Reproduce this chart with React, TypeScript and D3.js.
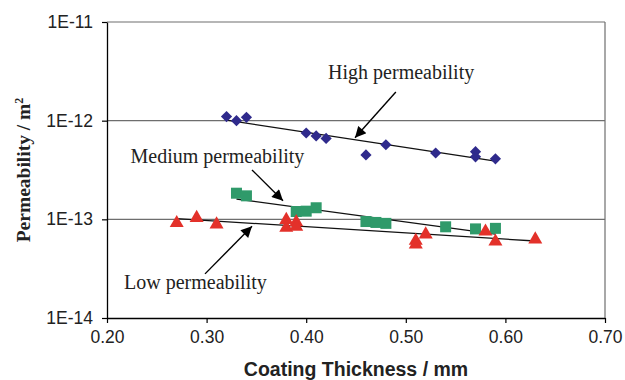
import React, { useEffect, useRef } from "react";
import * as d3 from "d3";

// coating thickness (mm) and permeability (m^2)
const highX = [0.32, 0.33, 0.34, 0.40, 0.41, 0.42, 0.46, 0.48, 0.53, 0.57, 0.57, 0.59];
const highY = [1.1e-12, 1.0e-12, 1.08e-12, 7.5e-13, 7.0e-13, 6.6e-13, 4.5e-13, 5.7e-13, 4.7e-13, 4.85e-13, 4.3e-13, 4.1e-13];

const mediumX = [0.33, 0.34, 0.39, 0.40, 0.41, 0.46, 0.47, 0.48, 0.54, 0.57, 0.59];
const mediumY = [1.84e-13, 1.73e-13, 1.2e-13, 1.21e-13, 1.31e-13, 9.5e-14, 9.3e-14, 9.1e-14, 8.4e-14, 8.0e-14, 8.1e-14];

const lowX = [0.27, 0.29, 0.31, 0.38, 0.38, 0.39, 0.39, 0.51, 0.51, 0.52, 0.58, 0.59, 0.63];
const lowY = [9.4e-14, 1.06e-13, 9.1e-14, 1.01e-13, 8.4e-14, 9.6e-14, 8.6e-14, 6.2e-14, 5.7e-14, 7.2e-14, 7.7e-14, 6.1e-14, 6.4e-14];

const xTicks = [0.2, 0.3, 0.4, 0.5, 0.6, 0.7];
const yTicks = [1e-14, 1e-13, 1e-12, 1e-11];
const yTickLabels = ["1E-14", "1E-13", "1E-12", "1E-11"];

// annotation labels and arrows (data units)
const labels = ["High permeability", "Medium permeability", "Low permeability"];
const labelPos = [[0.422, 2.64e-12], [0.2236, 3.73e-13], [0.2171, 1.97e-14]];
const arrows = [
  [[0.49, 1.95e-12], [0.449, 6.7e-13]],
  [[0.3456, 3.17e-13], [0.3767, 1.54e-13]],
  [[0.2984, 2.8e-14], [0.3456, 8.5e-14]],
];

const W = 625;
const H = 380;
const margin = { top: 22, right: 20, bottom: 62, left: 107 };

// exponential least squares fit, like Excel's trendline
function expFit(xs: number[], ys: number[]) {
  const ly = ys.map((v) => Math.log(v));
  const mx = d3.mean(xs)!;
  const my = d3.mean(ly)!;
  let sxy = 0;
  let sxx = 0;
  xs.forEach((x, i) => {
    sxy += (x - mx) * (ly[i] - my);
    sxx += (x - mx) * (x - mx);
  });
  const b = sxy / sxx;
  const a = my - b * mx;
  return (x: number) => Math.exp(a + b * x);
}

const App = () => {
  const ref = useRef<SVGSVGElement>(null);

  useEffect(() => {
    const svg = d3.select(ref.current);
    svg.selectAll("*").remove();

    const x = d3.scaleLinear().domain([0.2, 0.7]).range([margin.left, W - margin.right]);
    const y = d3.scaleLog().domain([1e-14, 1e-11]).range([H - margin.bottom, margin.top]);

    const defs = svg.append("defs");
    defs
      .append("marker")
      .attr("id", "arrowhead")
      .attr("viewBox", "0 0 10 10")
      .attr("refX", 10)
      .attr("refY", 5)
      .attr("markerWidth", 13)
      .attr("markerHeight", 11)
      .attr("markerUnits", "userSpaceOnUse")
      .attr("orient", "auto")
      .append("path")
      .attr("d", "M0,0 L10,5 L0,10 Z")
      .attr("fill", "#000");

    // gridlines
    svg
      .append("g")
      .selectAll("line")
      .data(yTicks.slice(1))
      .enter()
      .append("line")
      .attr("x1", x(0.2))
      .attr("x2", x(0.7))
      .attr("y1", (d) => y(d))
      .attr("y2", (d) => y(d))
      .attr("stroke", "#6e6e6e")
      .attr("stroke-width", 1.2);

    // right border
    svg
      .append("line")
      .attr("x1", x(0.7))
      .attr("x2", x(0.7))
      .attr("y1", y(1e-11))
      .attr("y2", y(1e-14))
      .attr("stroke", "#6e6e6e")
      .attr("stroke-width", 1.2);

    // axes
    const xAxis = d3
      .axisBottom(x)
      .tickValues(xTicks)
      .tickFormat((d) => d3.format(".2f")(d as number))
      .tickSizeInner(5)
      .tickSizeOuter(0)
      .tickPadding(8);
    const gx = svg
      .append("g")
      .attr("transform", `translate(0,${H - margin.bottom})`)
      .call(xAxis);
    gx.selectAll("text")
      .attr("font-family", "Liberation Sans, Arial, sans-serif")
      .attr("font-size", 17.5)
      .attr("fill", "#222");

    const yAxis = d3
      .axisLeft(y)
      .tickValues(yTicks)
      .tickFormat((d, i) => yTickLabels[i])
      .tickSizeInner(5)
      .tickSizeOuter(0)
      .tickPadding(9);
    const gy = svg.append("g").attr("transform", `translate(${margin.left},0)`).call(yAxis);
    gy.selectAll("text")
      .attr("font-family", "Liberation Sans, Arial, sans-serif")
      .attr("font-size", 17.5)
      .attr("fill", "#222");

    [gx, gy].forEach((g) => {
      g.select(".domain").attr("stroke", "#000").attr("stroke-width", 1.3);
      g.selectAll(".tick line").attr("stroke", "#000").attr("stroke-width", 1.2);
    });

    // trend lines
    const series = [
      { xs: highX, ys: highY },
      { xs: mediumX, ys: mediumY },
      { xs: lowX, ys: lowY },
    ];
    const line = d3
      .line<number[]>()
      .x((d) => x(d[0]))
      .y((d) => y(d[1]));
    series.forEach((s) => {
      const f = expFit(s.xs, s.ys);
      const [x0, x1] = d3.extent(s.xs) as [number, number];
      svg
        .append("path")
        .attr("d", line([[x0, f(x0)], [x1, f(x1)]]))
        .attr("fill", "none")
        .attr("stroke", "#111")
        .attr("stroke-width", 1.3);
    });

    // markers
    const diamond = d3.symbol().type(d3.symbolDiamond2).size(80);
    svg
      .append("g")
      .selectAll("path")
      .data(highX)
      .enter()
      .append("path")
      .attr("d", diamond)
      .attr("transform", (d, i) => `translate(${x(d)},${y(highY[i])})`)
      .attr("fill", "#2f2a8c");

    svg
      .append("g")
      .selectAll("rect")
      .data(mediumX)
      .enter()
      .append("rect")
      .attr("x", (d) => x(d) - 5.5)
      .attr("y", (d, i) => y(mediumY[i]) - 5.5)
      .attr("width", 11)
      .attr("height", 11)
      .attr("fill", "#2f9a6a");

    const tri = d3.symbol().type(d3.symbolTriangle).size(85);
    svg
      .append("g")
      .selectAll("path")
      .data(lowX)
      .enter()
      .append("path")
      .attr("d", tri)
      .attr("transform", (d, i) => `translate(${x(d)},${y(lowY[i]) + 1})`)
      .attr("fill", "#e3312a");

    // annotations
    labels.forEach((t, i) => {
      svg
        .append("text")
        .attr("x", x(labelPos[i][0]))
        .attr("y", y(labelPos[i][1]))
        .attr("font-family", "Liberation Serif, Times New Roman, serif")
        .attr("font-size", 20)
        .attr("fill", "#222")
        .text(t);
    });
    arrows.forEach((a) => {
      svg
        .append("line")
        .attr("x1", x(a[0][0]))
        .attr("y1", y(a[0][1]))
        .attr("x2", x(a[1][0]))
        .attr("y2", y(a[1][1]))
        .attr("stroke", "#000")
        .attr("stroke-width", 1.4)
        .attr("marker-end", "url(#arrowhead)");
    });

    // axis titles
    svg
      .append("text")
      .attr("x", (x(0.2) + x(0.7)) / 2)
      .attr("y", 376)
      .attr("text-anchor", "middle")
      .attr("font-family", "Liberation Sans, Arial, sans-serif")
      .attr("font-weight", "bold")
      .attr("font-size", 19.5)
      .attr("fill", "#222")
      .text("Coating Thickness / mm");

    const yt = svg
      .append("text")
      .attr("transform", `translate(30,${(y(1e-11) + y(1e-14)) / 2}) rotate(-90)`)
      .attr("text-anchor", "middle")
      .attr("font-family", "Liberation Serif, Times New Roman, serif")
      .attr("font-weight", "bold")
      .attr("font-size", 19.5)
      .attr("fill", "#222");
    yt.append("tspan").text("Permeability / m");
    yt.append("tspan").attr("dy", -7).attr("font-size", 12).text("2");
  }, []);

  return (
    <svg
      ref={ref}
      width={W}
      height={H}
      style={{ position: "absolute", left: 0, top: 0, background: "#fff" }}
    />
  );
};

export default App;
